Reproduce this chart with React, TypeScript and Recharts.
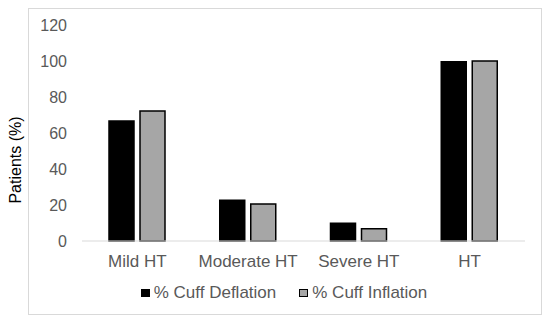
import React from 'react';
import { BarChart, Bar, XAxis, YAxis, Legend, Label } from 'recharts';

const categories = ['Mild HT', 'Moderate HT', 'Severe HT', 'HT'];
const cuffDeflation = [66.7, 22.6, 9.8, 99.6];
const cuffInflation = [72.2, 20.6, 6.8, 100];
const yTicks = [0, 20, 40, 60, 80, 100, 120];

const SERIES = [
  { key: 'deflation', name: '% Cuff Deflation', fill: '#000000' },
  { key: 'inflation', name: '% Cuff Inflation', fill: '#a6a6a6' },
];

const data = categories.map((c, i) => ({
  category: c,
  deflation: cuffDeflation[i],
  inflation: cuffInflation[i],
}));

const FONT = 'Arial, "Liberation Sans", sans-serif';
const TEXT_GREY = '#595959';

const renderLegend = () => (
  <div
    style={{
      display: 'flex',
      justifyContent: 'center',
      alignItems: 'center',
      gap: 23,
      fontFamily: FONT,
      fontSize: 17,
      color: TEXT_GREY,
      lineHeight: '18px',
      paddingLeft: 18,
    }}
  >
    {SERIES.map((s) => (
      <div key={s.key} style={{ display: 'flex', alignItems: 'center' }}>
        <span
          style={{
            display: 'inline-block',
            width: 7,
            height: 6,
            background: s.fill,
            border: '1px solid #000',
            marginRight: 4,
          }}
        />
        {s.name}
      </div>
    ))}
  </div>
);

export default function App() {
  return (
    <div style={{ position: 'absolute', left: 0, top: 0, width: 550, height: 323, background: '#fff' }}>
      <div
        style={{
          position: 'absolute',
          left: 28,
          top: 8,
          width: 512,
          height: 305,
          border: '1px solid #d9d9d9',
        }}
      />
      <div style={{ position: 'absolute', left: 0, top: 0 }}>
        <BarChart
          width={550}
          height={323}
          data={data}
          margin={{ top: 25, right: 25, bottom: 34, left: 32 }}
          barCategoryGap={27}
          barGap={6}
        >
          <XAxis
            dataKey="category"
            axisLine={{ stroke: '#d9d9d9', strokeWidth: 1 }}
            tickLine={false}
            tickSize={0}
            tickMargin={14}
            height={30}
            tick={{ fill: TEXT_GREY, fontSize: 17, fontFamily: FONT }}
          />
          <YAxis
            domain={[0, 120]}
            ticks={yTicks}
            axisLine={false}
            tickLine={false}
            tickSize={0}
            tickMargin={15}
            width={50}
            tick={{ fill: TEXT_GREY, fontSize: 16, fontFamily: FONT }}
          >
            <Label
              content={() => (
                <text
                  x={15}
                  y={160}
                  transform="rotate(-90 15 160)"
                  textAnchor="middle"
                  dominantBaseline="central"
                  fontSize={16}
                  fontFamily={FONT}
                  fill="#000"
                >
                  Patients (%)
                </text>
              )}
            />
          </YAxis>
          <Legend
            verticalAlign="bottom"
            height={18}
            content={renderLegend}
            wrapperStyle={{ top: 284, left: 0, width: 550 }}
          />
          {SERIES.map((s) => (
            <Bar
              key={s.key}
              dataKey={s.key}
              name={s.name}
              fill={s.fill}
              stroke="#000"
              strokeWidth={1.5}
              isAnimationActive={false}
            />
          ))}
        </BarChart>
      </div>
    </div>
  );
}
